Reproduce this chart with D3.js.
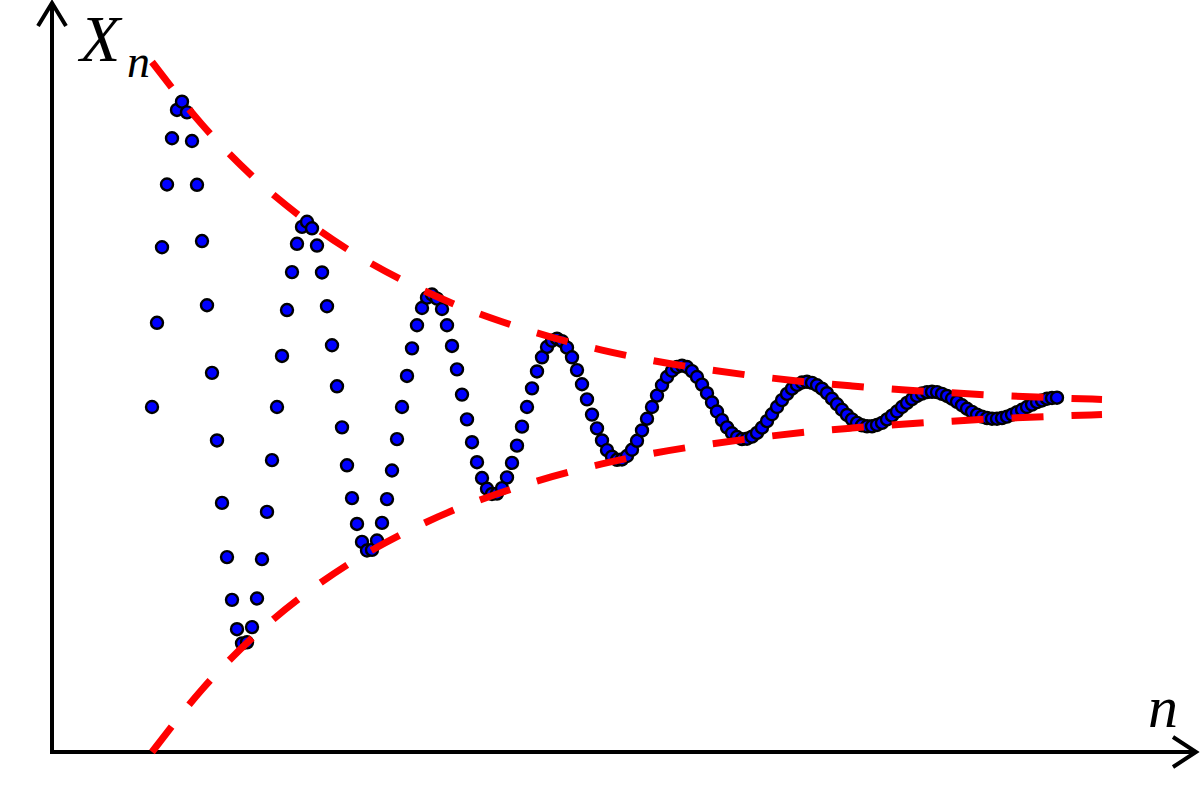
<!DOCTYPE html>
<html>
<head>
<meta charset="utf-8">
<script src="https://cdn.jsdelivr.net/npm/d3@7"></script>
<style>
  body { margin: 0; background: #fff; }
  svg { display: block; }
</style>
</head>
<body>
<div id="chart"></div>
<script>
// X_n values, one per n = 0, 1, 2, ...
const xnValues = [
  1.000, 1.244, 1.463, 1.645, 1.779, 1.861, 1.885, 1.854, 1.771, 1.644, 1.481, 1.295, 1.099,
  0.903, 0.722, 0.565, 0.441, 0.356, 0.315, 0.318, 0.362, 0.445, 0.559, 0.696, 0.846,
  1.000, 1.148, 1.281, 1.391, 1.473, 1.522, 1.537, 1.518, 1.468, 1.390, 1.292, 1.179, 1.060,
  0.941, 0.831, 0.736, 0.661, 0.609, 0.584, 0.586, 0.613, 0.664, 0.733, 0.816, 0.907,
  1.000, 1.090, 1.170, 1.237, 1.287, 1.317, 1.326, 1.314, 1.284, 1.237, 1.177, 1.109, 1.036,
  0.964, 0.898, 0.840, 0.794, 0.763, 0.748, 0.749, 0.765, 0.796, 0.838, 0.888, 0.943,
  1.000, 1.054, 1.103, 1.144, 1.174, 1.192, 1.198, 1.191, 1.172, 1.144, 1.107, 1.066, 1.022,
  0.978, 0.938, 0.903, 0.875, 0.856, 0.847, 0.848, 0.858, 0.876, 0.902, 0.932, 0.966,
  1.000, 1.033, 1.063, 1.087, 1.105, 1.116, 1.120, 1.116, 1.104, 1.087, 1.065, 1.040, 1.013,
  0.987, 0.962, 0.941, 0.924, 0.913, 0.907, 0.908, 0.914, 0.925, 0.940, 0.959, 0.979,
  1.000, 1.020, 1.038, 1.053, 1.064, 1.071, 1.073, 1.070, 1.063, 1.053, 1.040, 1.024, 1.008,
  0.992, 0.977, 0.964, 0.954, 0.947, 0.944, 0.944, 0.948, 0.954, 0.964, 0.975, 0.987,
  1.000, 1.012, 1.023, 1.032, 1.039, 1.043, 1.044, 1.043, 1.038, 1.032, 1.024, 1.015, 1.005,
  0.995, 0.986, 0.978, 0.972, 0.968, 0.966, 0.966, 0.968, 0.972, 0.978, 0.985, 0.992,
  1.000, 1.007, 1.014, 1.019, 1.024, 1.026, 1.027
];

// envelope (red dashed curves)
const envN     = [0, 10, 20, 30, 40, 50, 60, 70, 80, 90, 100, 110, 120, 130, 140, 150, 160, 170, 180, 190];
const envUpper = [2.000, 1.819, 1.670, 1.549, 1.449, 1.368, 1.301, 1.247, 1.202, 1.165,
                  1.135, 1.111, 1.091, 1.074, 1.061, 1.050, 1.041, 1.033, 1.027, 1.022];
const envLower = [0.000, 0.181, 0.330, 0.451, 0.551, 0.632, 0.699, 0.753, 0.798, 0.835,
                  0.865, 0.889, 0.909, 0.926, 0.939, 0.950, 0.959, 0.967, 0.973, 0.978];

const width = 1200, height = 800;

const svg = d3.select("#chart").append("svg")
    .attr("width", width)
    .attr("height", height);

svg.append("rect").attr("width", width).attr("height", height).attr("fill", "#fff");

let x = d3.scaleLinear().domain([0, 181]).range([152, 1057]);
let y = d3.scaleLinear().domain([0, 2]).range([752, 62]);

// axes with open arrow heads
const x0 = x(-20), y0 = y(0);
const axisG = svg.append("g")
    .attr("fill", "none")
    .attr("stroke", "#000")
    .attr("stroke-width", 4);

axisG.append("line").attr("x1", x0).attr("y1", y0 + 2).attr("x2", x0).attr("y2", 3);
axisG.append("line").attr("x1", x0 - 2).attr("y1", y0).attr("x2", 1196).attr("y2", y0);
axisG.append("path")
    .attr("d", `M${x0 - 14},${26} L${x0},${3} L${x0 + 14},${26}`);
axisG.append("path")
    .attr("d", `M${1173},${y0 - 15} L${1196},${y0} L${1173},${y0 + 15}`);

// points
svg.append("g").selectAll("circle")
    .data(xnValues)
    .join("circle")
    .attr("cx", (d, i) => x(i))
    .attr("cy", d => y(d))
    .attr("r", 6)
    .attr("fill", "#0000ff")
    .attr("stroke", "#000")
    .attr("stroke-width", 2.4);

// envelope
let envLine = d3.line()
    .x(d => x(d[0]))
    .y(d => y(d[1]))
    .curve(d3.curveMonotoneX);

[envUpper, envLower].forEach(vals => {
    svg.append("path")
        .datum(envN.map((n, i) => [n, vals[i]]))
        .attr("d", envLine)
        .attr("fill", "none")
        .attr("stroke", "#ff0000")
        .attr("stroke-width", 7)
        .attr("stroke-dasharray", "32,28");
});

// labels
const serif = "'Liberation Serif', 'DejaVu Serif', serif";
svg.append("text").attr("x", 80).attr("y", 61)
    .style("font-family", serif).style("font-style", "italic")
    .style("font-size", "66px").text("X");
svg.append("text").attr("x", 127).attr("y", 77)
    .style("font-family", serif).style("font-style", "italic")
    .style("font-size", "46px").text("n");
svg.append("text").attr("x", 1148).attr("y", 727)
    .style("font-family", serif).style("font-style", "italic")
    .style("font-size", "60px").text("n");
</script>
</body>
</html>
